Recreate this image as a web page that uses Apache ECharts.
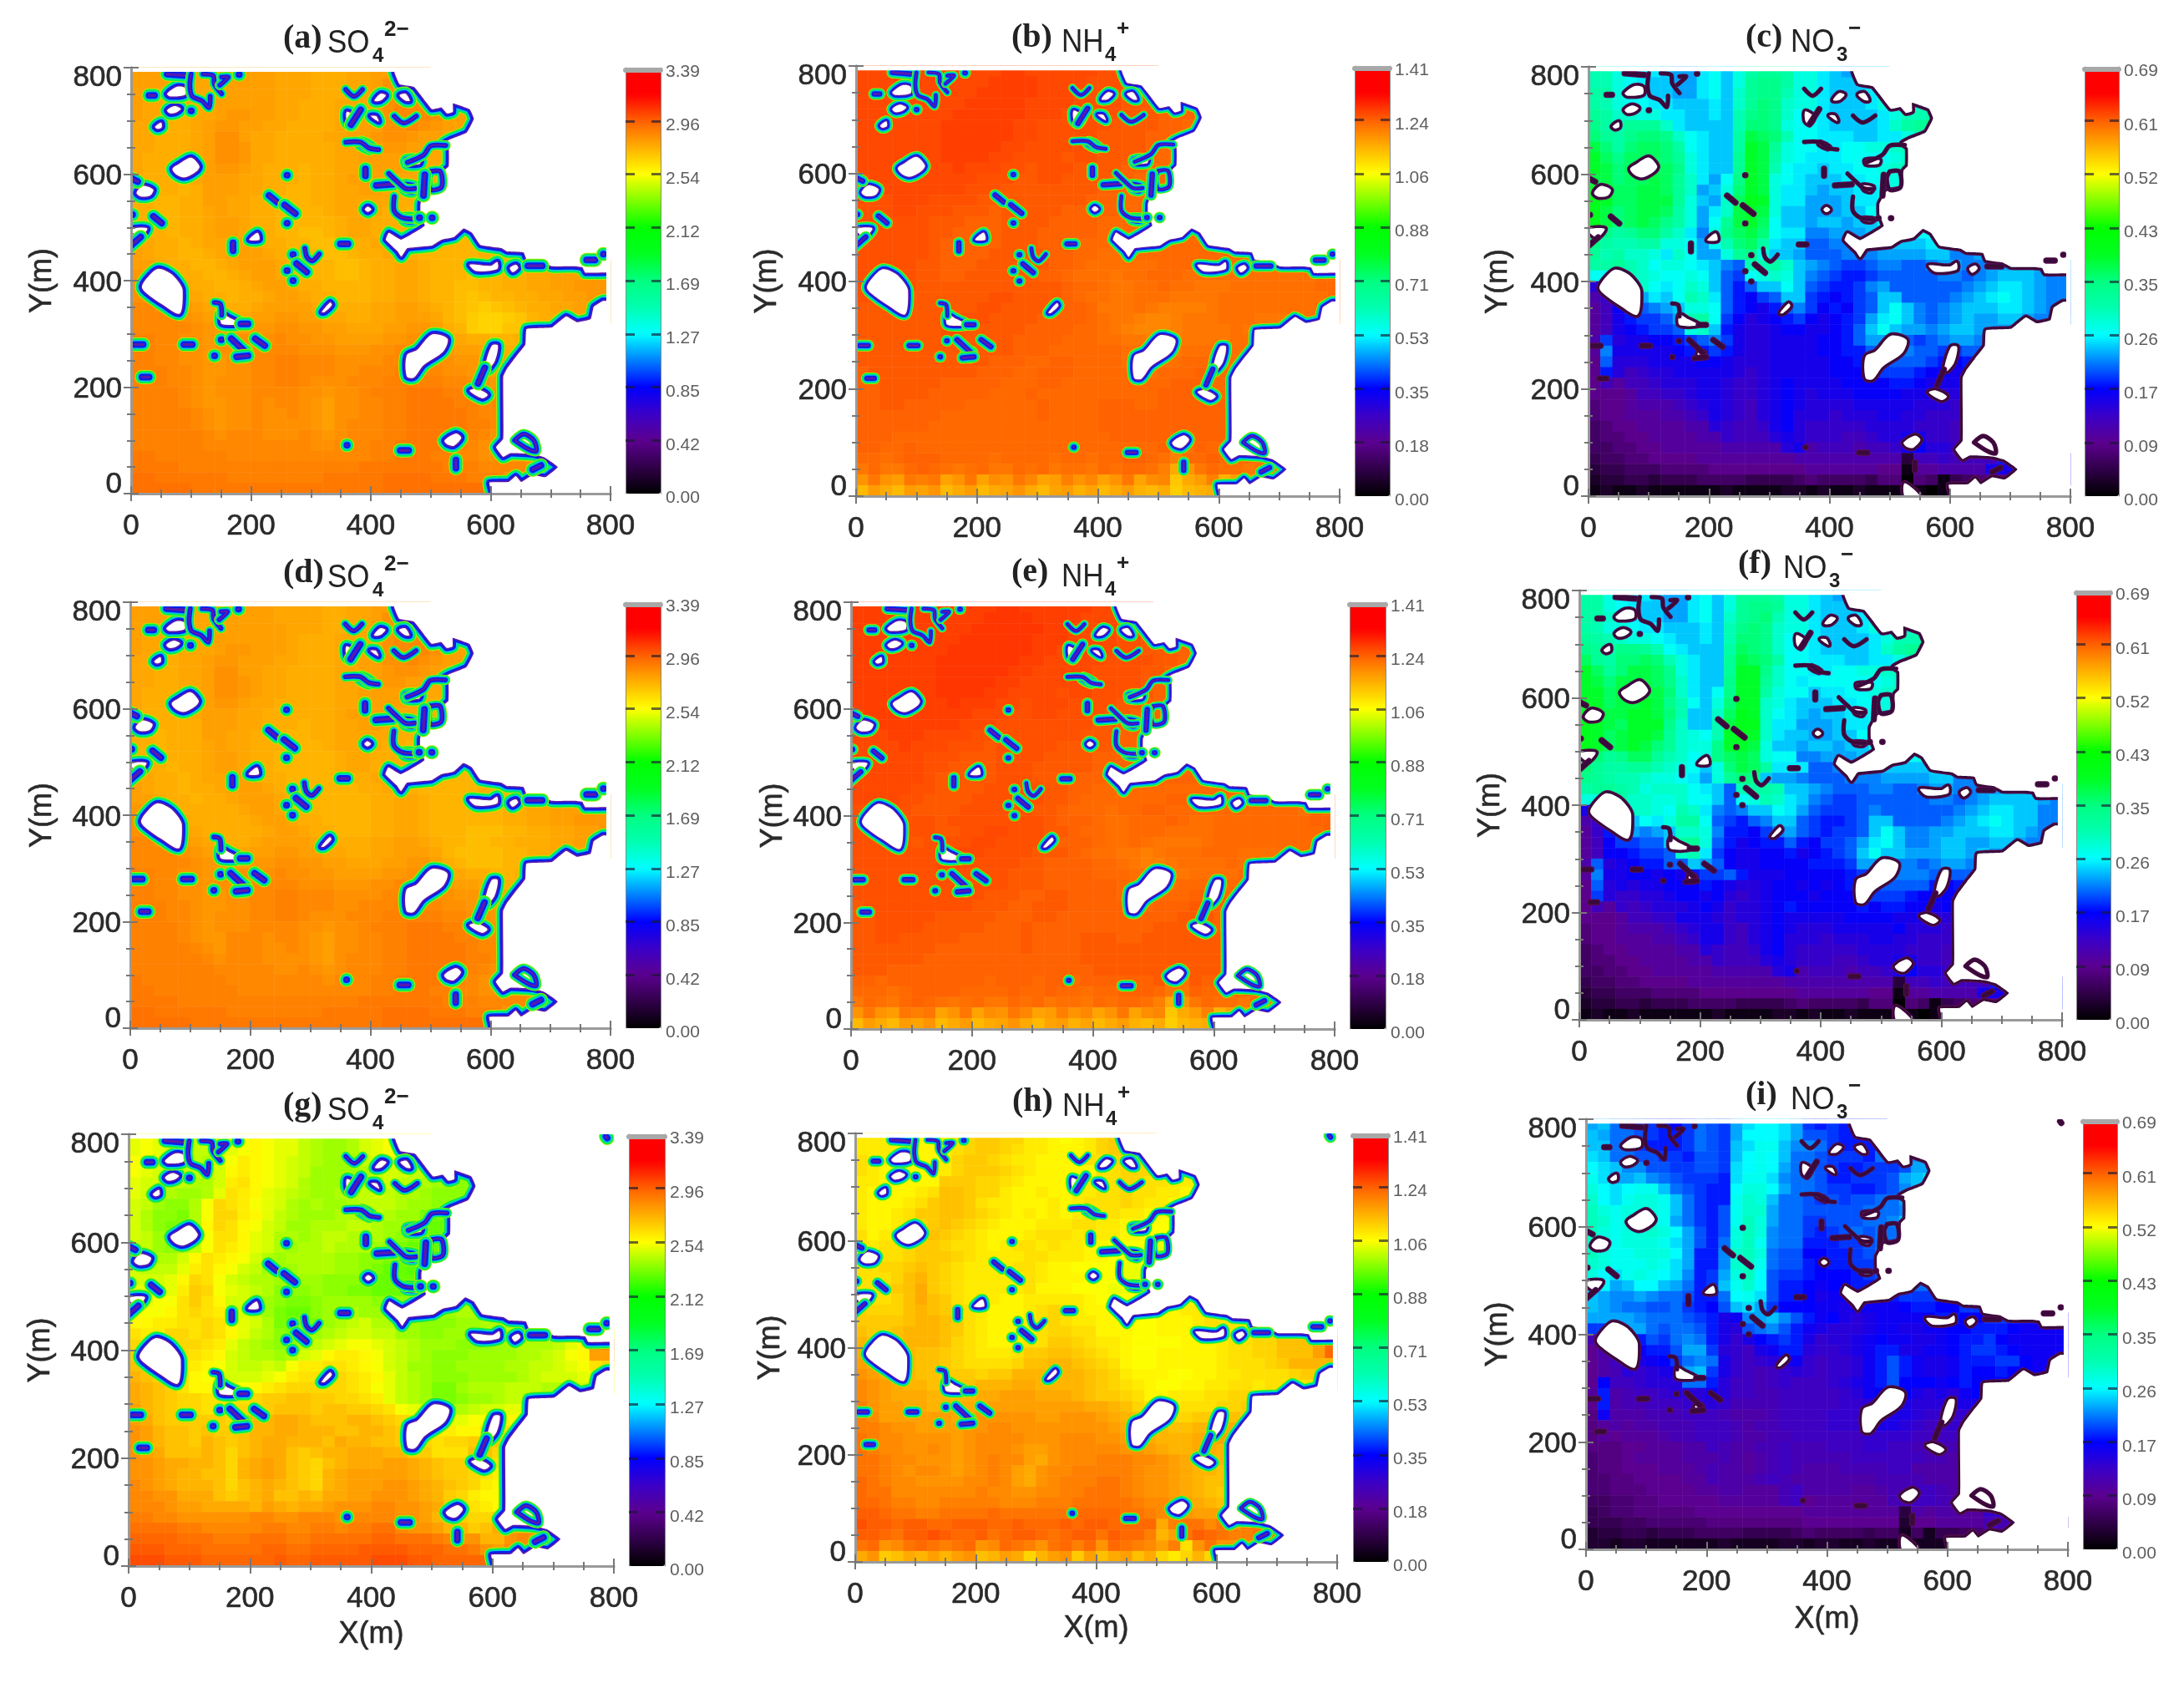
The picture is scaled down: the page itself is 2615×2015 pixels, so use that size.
<!DOCTYPE html>
<html><head><meta charset="utf-8"><style>html,body{margin:0;background:#fff}#c{width:2615px;height:2015px}</style>
<script src="https://cdn.jsdelivr.net/npm/echarts@6/dist/echarts.min.js"></script></head><body><div id="c"></div>
<script>
const rowsA=["kkkjjjjjjkkkjjjiiijjkkmm","kkkjjjjjkkkkjjjiiijjkmmmn","kkjjjjjjkkkkjjjiiijjkmmnnl","kjjjjjjkkkkkjjiiijjjkmnnnnkkkk","kjjiijjkllkkjjiiijjkkmnnnmkkjj","jjjiijkllkkjjiiiijjkkmmnmlkkjj","jjiiijkmmkjjiiiijjkklmmlkkjjj","jjiiijkmmljjiiiiijjkkllkkjjk","jiiiijkmmljjiiiiijjkkkkjjjjj","jiiiijkllkjiiihiijjkkkkjjiii","jiiihjkkkjjiiihiijkkkkjjiiii","iiiihikkkjjiihhiijjkkjjiiih","iihhiikkjjiihhhiijjjjjiihh","iihhiijkjjiihhhhijjjjiihhh","iihhiijkkjiihhhhhijjiiihhhh","jiihiijkkjiihhgghijjiiihhhhiii","jjiihijjkkjiihhgghiijjiihhhhhiii","kjiihhijkkkjiihhgghiijjihhhhhiiijj","kkjiihhijkkkjiihhgghiijjihhhhhiiijjkkkkl","llkjiihhijkkjiihhgghiijjihhhghhiijjkkkll","mmlkjiihhijkkjiihhhhiijjihhgghhiijjkklll","mmmlkjiihiijkkjiihhhiijjihhgfghhiijjkkll","nnmmlkjiiijkkkkjjiiijjkkjihgfefghiijjkkk","nnnnmlkkjjkkllkkjjiijjkkkjhgeddefhiijjjj","nnnnnmllkkllmmllkkjjjkkllkiheddffhiii","oonnmmlmmmmmnmmllkkkkllmmlkjiihhii","oonnmmlmmnnnnnmmmlllmmnnmllkkjjiii","oonnmmllmmnnoonnnmmmmnnnnmmllkkjj","ooonnmllmmnnoonnnmmnnnoonnmmllkk","ooonnmlmmmnnoonmmmnnnooooonnmmll","oooonmlmmmnnnnmmlmmnooopppoonnmm","oooonmllmmnmnnmlkmmnnooppppoonnm","ooooonmlmmnmmnmlkmmnnooppppponnm","ooooonmlmmnmmmmlkmnnnoopppppoonn","oooooonmnnnmmmnmlmnnnooppppoonmm","oooooonnnnnnnnnmmnnnooppppoonmmk","ppoooooonnnnnnnnnnnnoopppoonnmmkkkll","ppppooooooooooooooopppppppooonnnnmmkl","qqppppppoooooooopppppqqqqpppooommkkl","qqqqqppppppppppppppppqqqqqqqqqq"];
const rowsB=["wwwwwwwwwwwwxxwwwwwwvvvvv","wwwwwwwwwwwxxxxwwwwvvvvuu","wwwwwwwwwwxxxxxwwwvvvvuuuu","wwwwwwwwwxxxxxwwwwvvvvuuuttttt","wwwwwwwwxxxxxxwwwvvvvvuuutttss","wwwwwwwxxxxxxwwvvvvvvuuuuttsss","wwwwwwwxxxxxxwwvvvvvuuuuttsss","wwwwwwwxxxxxwwvvvvvvuuuutssss","wwwwwwwxxxxwwvvvvuvvuuuttsss","wwwwwwwwxwwwvvuvvvuuuuttsss","vwwwwwwwwwvvvuuvvuuuuttssss","vvwwwwwwwvvvuuuuuuuuttsssss","vvvwwwvvvvuuuuuuuuutttsss","vvvwwvvvuuutuuuuutttttsss","vvvvvvuuutttuuuuttttssss","vvvvvvuuttttuuutttttsssssss","vvvvvvutttttuuutttssssssssss","vvvvvvuttttuuuuuttssrrrsssssssss","vvvvvuutttuuuuuuttsrrrrrrsssssrrrrrrrsss","vvvvvuuttuuuuuuttsrrrqrrsssrrrrrrrrrrrss","vvvvvuuuuuuuuuuuutssrqqrrsrrqqqrrrrrrrss","vvvvuuuuuuuvvuuuutsrrqqrrrqqqqrrrrrrrrrs","uuuuuuuuuuvvuuuutttsqqqrqppppqrrrrrrrrss","uuuuuuuuvvvuuuuttttsrqqpoopqqqrrrqqqqr","uuuuuuuvvuuuuuttttssrqpooopqqqqrqqq","uuuuuuuvvuuuuttttsssrrqqpppqqqqrrr","uuuuuuuuuuuuutttssssssrrqqqrrrrrr","uuuuuuuuuuutttssttssssrrrrrsssrrr","tuuuuuuuuutttsstttsssssrrssstss","ttuuuuutttttsssttssssssssstttss","ttuuuutttttssstssssssssssttttss","ttuutttttsssssstsssstttsstttttts","tttttttsssssssstssssttttttttttts","ttttttssssssssssssssttttttttttts","tttsssssssssssssssssstttttssttttt","ttsstsssssssssssssssssssstqrtsss","ssrstttssssrssssrssrssttsrpsstssssrs","qsqqstsrqrsqqsrsqrrqsrssrpjmqsrrqssss","mqmlqpqkmqknmqoklpmokmqknofjlpilnqrrr","hljhlkmhjlhjkmjhklikhjlihjehijhjklmm"];
const rowsC=["ppnlllkjjlmknqrrqnnlkjkkk","ppnmlkkjjlmknrssqnnlkkkkk","qqnmlkkjjlmkorsspnnlkkkll","qpnmmllkkklkortsonnlkkklnnooppp","rqoonnllkklkpstsommlkkkklnppqqq","sqprrrolkkkkpttsnmmlkkkkloqrsss","trqsttsomlkkqvutpmmlllkkllnppqrr","vtqtuutqmlkkqwvrnmmllmmnnopppp","wusuuutrnlkkrwvqnmlllmmmmnoppp","wvtuuuusnlkkrwvpmllkllmmnopppp","vvtuuvuroljmswvnmlkkkllmmnooooo","wvuuvvurojkntwvnllkjkkllmnooo","xwuuvvvrnkjouxwnlljjjkllnpqqq","xvtuvvuqnjlovwvnkkjjjkkmoqpppp","xvtuvusqnjmrvwumkkjkkjkkmnoppp","wsqrttqolinsuvtmlliijjjkllmmmmmm","sqppqqnnmjmptuqlkkhhiijjkkkkllll","rpqoonlomjjnrsnkkjhhhiiijjjjkkiijj","qqrpomnnmlkihppqokjihgghiihhijjiijjklkjj","mmqponmmnmkhgmnonkihgffghhhhhiihijkkkjii","cfjkomlmonkhfhkkmkhgffgijhhhhhhijkllkjii","9bgijlkmpolhfeghkkgfefghkkhhhhijklmlkjii","8aefhijknnmhfedfhigefeghkmkihijkkkllkjih","8adfgghjpqmgecdefgedefgjlmkihijkjjkkjiii","8adefgghnokfdccdeeddefhkmkjjijkkjjjj","9gcddeefghigdccddddeefhjjihghijjiiii","8idddddeffgfdccddddeeffhhiihhgghhhhh","7hcccddddeedcccdddddeefgghhhgfefffff","7fcabccdddddcbcdddddeeefgggfeedeeee","7a8aabcccddcbbcdeddddeeeeffedddddd","7778aabbcddcbbcdedcdddeeeedddccccc","6778999abcdcbacdedccccdddddcccbbbb","67788899abdcbacdecccbcccddccbbbbbb","5677888899cbaabdecbbbbbccccbbbaaaa","56677888899baaacdcbbbaabccddbbaaaa","5566778888899999cd9aaa9aabdeccbbaaaa","455667777888888889999999993aabaaaafgfeeee","344555666677777777888888771889999ddeegfeddd","233443444555544445655554660651456778ddeedd","12112111111211112212112111110112444"];
const rowsD=["kkkjjjjjjkkkjjjjiijjkkmm","kkkjjjjjkkkkjjjjiijjkmmmn","kkjjjjjjkkkkkjjjiijjkmmnnl","kjjjjjjkkkkkkjiiijjjkmnnnnkkkk","kjjijjjkllkkkjiiijjkkmnnnmkkjj","jjjijjkllkkkjjiiijjkkmmnmlkkjj","jjiijjkmmkkjjiiiijjkklmmlkkjjj","jjiijjkmmlkjjiiiijjkkllkkjjk","jiiijjkmmlkjjiiiijjkkkkjjjjj","jiiijjkllkjjiiiiijjkkkkjjiii","jiiiijkkkjjiiiiiijkkkkjjiiii","iiiiiikkkjjiiihiijjkkjjiiih","iihiiikkjjiiihhiijjjjjiihh","iihiiijkjjiiihhhijjjjiihhhh","iihiiijkkjiihhhhhijjiiihhhh","jiihiijkkjiihhhhhijjiiihhhhiii","jjiihijjkkjiihhhhhiijjiihhhhhiii","kjiihiijkkkjiihhhhhiijjihhhhhiiijj","kkjiihiijkkkjiihhhhhiijjihhhhhiiijjkkkkl","llkjiiiiijkkjiihhhhhiijjihhhhhhiijjkkkll","mmlkjiiiiijkkjiihhhhiijjihhhhhhiijjkklll","mmmlkjiiiiijkkjiihhhiijjihhhggghhiijjkkl","nnmmlkjiiijkkkkjjiiijjkkjihhgghhiiijjkkk","nnnnmlkkjjkkllkkjjiijjkkkjhgggghhiijjjjj","nnnnnmllkkllmmllkkjjjkkllkihggghhiiii","oonnmmlmmmmmnmmllkkkkllmmlkjiihhii","oonnmmlmmnnnnnmmmlllmmnnmllkkjjiii","oonnmmllmmnnoonnnmmmmnnnnmmllkkjj","ooonnmllmmnnoonnnmmnnnoonnmmllkk","ooonnmlmmmnnoonmmmnnnooooonnmmll","oooonmlmmmnnnnmmlmmnooopppoonnmm","oooonmllnnnmnnmlkmmnnooppppoonnm","ooooonmlnnnmmnmlkmmnnooppppponnm","oooooonmnnnmmmmlkmnnnoopppppoonn","ooooooonnnnnmmnmlmnnnooppppoonmm","pooooooonnnnnnnnmnnnooppppoonmmk","ppooooooonnnnnnnnnnnoopppoonnmmkkkll","ppppooooooooooooooopppppppooonnnnmmkl","qqppppppoooooooopppppqqqqpppooommkkl","qqqqqppppppppppppppppqqqqqqqqqq"];
const rowsE=["xxxxxxxxxxxxyyxxxxxxwwwww","xxxxxxxxxxxyyyyxxxxwwwwvv","xxxxxxxxxxyyyyyyxxwwwwvvvv","xxxxxxxxxyyyyyyxxxwwwwvvuuuuuu","xxxxxxxxyyyyyyyxxwwwwwvvuuutts","xxxxxxxyyyyyyyxxwwwwwvvvvuuttt","xxxxxxxyyyyyyxxwwwwwvvvvuutts","xxxxxxxyyyyyxxwwwwwwvvvvuttss","xxxxxxxyyyyxxwwwwvwwvvvuutss","xxxxxxxxyxxxwwvwwwvvvvuutts","wxxxxxxxxxwwwvvwwvvvvuutttt","wwxxxxxxxwwwvvvvvvvvuuttttt","wwwxxxwwwwvvvvvvvvvuuuttt","wwwwxwwwvvvuvvvvvuuuuuttt","wwwwwwvvvuuuvvvvuuuutttt","wwwwwwvvuuuuvvvuuuuuttttttt","wwwwwwvuuuuuvvvuuuttttttttt","wwwwwvvuuuuvvvvvuuttssssssssssss","wwwwvvuuuuvvvvvvuutssssssstttssssssssrts","vvvvvuuuuvvvvvvuutsssrssttsssssssssssrts","vvvvvvvuvvvvvvvvutttsrrssstsrrsssssssstt","vvvvvvvuuvvwwvvvuutssrrsssrrrrssssssssst","vvvvvuvvvvwwvvvvutttsrrsrqqqqrssssssssss","vvvvvvvvwwwvvvvuuutsrrqqpqrrrsssrrrrs","vvvvvvvwwvvvvvuuttttssrqppqrrrrsrrr","vvvvvvvwwvvvvuuuttttsssrrqqqrrrrsss","vvvvvvvvvvvvvuuuttttttssrrrsssssss","vvvvvvvvvvvuuuttuuttttsssssstttss","uvvvvvvvvvuuuttuuutttttsstttuttt","uuvvvvvuuuuutttuuttttttttttuuutt","uuvvvvuuuuutttuttttttttttuuuutt","uuvvuuuuutttttuttttuuuttuuuuuuut","uuuuuuutttttttuttttuuuuuuuuuuuut","uuuuuutttttttttttttuuuuuuuuuuuut","uuutttttttttttttttttuuuuuuuuuuuuu","ttsttttttttstttsttsttttttuqruttt","sssrsttttsssstsstssrsstttsqqtssssssrt","qsrqstsrqrsqqsrsqrrqsrssrpjmqsrrqssss","mqmlqpqkmqknmqoklpmokmqknofjlpilnqrrr","hljhlkmhjlhjkmjhklikhjlihjehijhjklmm"];
const rowsF=["qqnlllkjjlmknrrrqnnlkjkkk","qqnmlkkjjlmknrssrnnlkkkkk","qqonlkkjjlmkorstpnnlkkkll","qpnnmllkkklkpstsonnlkkklnnooppp","rqponnmlkklkpttsommlkkkklnppqqq","srqssrpmlkkkqutsommlkkkkloqrsss","urqttutpnlkkrvutqmmlllkkllnpqrrr","wurtvvusnlkkrwwsommllmmnnopppq","wvtvvvusolkkswwromlmmmmmmnoppp","wwuvvvvtolkmswwqnmmkllmmnoppqq","wwuvvwvspmkntwwonlkkkllmmnooooo","wxvvwwvtpkkouxwomlkjkkllmnopp","xwvuwwwsokkpvxxolljjjkllnpqqq","xwuvwwvronmpwxwolkkjjkkmoqqqq","xwuvwvtronnswwvnkkjkkjkkmnoppp","wtrsuurpomnsuvunmmiijjjkllmmnnnn","trqqrrponmkntvuqlllhhiijjkkkklllm","srqpponnmljnrtskjjihhhiiijjjjkkiijj","qrrqpnooomlkhpqqpkkjihhhiihhijjiijjklkjj","nnrqoonnommkhmnpolkihgghhhhhhiihijkkkkji","dgkloonmpolihikkmljhggghihhhhhhijkllkkii","9bhjkmlnqqmhgfhikkhgffghkkhhhhijklmlkkii","8bfgjijkooniffegijhgfgghkmkiijjkkkllkjih","8aegghhkqrnhfdeffhfegghjlmkiijkkjjkkjiii","8aeefgghoplgeddeefdefghkmkkjjjkkjkjj","9hcdeffhhkjheddeeeefffgjjiiihijjiiij","8iddeededfgghfdddeeeeefgghiiihhhhhhhi","7hcdcddeeefedccdeededefgghhhhfefgfff","7gcbbccdeedecbcdeeedeeefgggfeeeeeee","7a8babcccdedbccdefeeeeefeffeededdd","7778aabbdddcbccdedddddeeeedddccccc","6778999abcddbacdedcccdddddecccbbbb","67788899abddbacdecccbcccddccbbbbbb","5677888899cbaabdecbbbbbccccbbbaaaa","56677888899baaacdcbbbaabccddbbaaaa","5566778888899999cd9aaa9aabdeccbbaaaa","455667777888888889999999993aabaaaafgfeeee","344555666677777777888888771889999ddeegfeddd","233443444555544445655554660651456778ddeedd","12112111111211112212112111110112444"];
const rowsG=["fgffeddefghgffdcbbcefghhh","fgfeeddefghgffdcbbcefghhh","gffeedcegihgfedcbbbdefghhh","gfeeddcehihgfedbbbbcdeedddbbaa","feeddcceijhgfecbbbbcdeddcbbaaa","fedcbbcfjihfedcbbccdedccbaaabb","edbaacgkjigfecbcbbcdddcbbaa9","ecaa9cgkkihfdcbbbccddcbb9888","eca99chkjhgedbbcccddcbb98877","edba9cgjjhfeccbcddcdcba98877","edbabdgjihfecbccdcccba98877","edccehjihgecbccccbbaa98877","edddfijhgedbbbcccbba98877","eeefhkjgedccbbbbaaa988888","ffefilkgfedcaaabaa9988889","ffggjljheecba99abbbbaaaabbbbbb","ggghjkjigedb988abccbbaaaabbcccbb","hhiijjkjhfec9899bcdeccbbaaabbcccdd","jiikkjkjhfdca99bcdeeddbbaabbbbccdddeefgg","kjkkkkjifdcbaacdefggfedcbbbaaabbcccdfhtt","lkklkjihedccbcefhiihgedcbaaabbbbccdeghpp","mmlljihgeddedgiijjihgedbbaabbbbccddefgjk","nmlkjhgfeeefgijjjkjihfdcbaaabbbbcdeeefgh","onmljhhggghijkkkkkjigfdcb99bcccdddccdee","onmlkkjjjjkllmmllkkjifdcb99abbcddd","pnmlkkjkkkllmmmlmmllkjgfedccdeeffe","pomlllllklnnoonmmmnnmlkjhgffgghhg","qpnmmlmllmnnoonnnmmnnmlkjiihhijj","qpnmmlnmlmnoonnnmonnmmlkkjkkllmm","qpommmnmkmnoomlmnnooonnlljjjmmkk","qqpoonnmknopomlkmnooopponmllkkjj","qqponnmmknopomlknoppppponmllkjij","rqponnnmkmnonmlknopppqqponmlkihh","rrqqooomlmnommnmooppqqqponlkihhh","rrrqppoooonponoopqqqrrqqpolkjihh","ssrrqqqqqqrrqqrrrqrrrrqqpnmlkkll","ttttssrrrrrssrrssrssttrqqpnnlmoppq","uuuutttssstttsstttttuutttsrqqnnqrqpo","vvvuuutttttuuttuuuuvvvvuuuttsqprrst","wwwvvvuuuuuuvuuvvvvvwwwvvuuuuut"];
const rowsH=["ffffeeefghiihhffedefhijjk","ffffeeefghiihgffeeefhijjk","gffeeeefhiihgffeeeegghjjkk","gfeeeeefhiiihgfeeeeegghhhhggff","ffeeeeeiiihhgfeeeeefgghhggffee","feeeefgjjihhfeefeeffgghggffeff","feeefgijjigffeeefefggghgffeee","feefgiijjihgfefefefgggffeeed","feefghijihgfeeefffggffeeddcc","gefgghjihgfeeefgggfgffeeddcc","gfgghiihggfefggfgffeeddddcc","gggghiiihgffffggfffeeddccc","gghhijihgffffggfeeddddccc","ggghjkihgfffffgfeeedddccc","gghijlihgfffffgeeedddccc","hgghjljigfgfeefffffeddddeeee","ihhhjkjihgfeeefghgfeeeddeeefff","iiiijkkjigfeeefghgffeeeddeeefgg","jiijkkkjigfeeefghhggeeeddeeeeffgghhjjkkl","kjjjkkkjhgfeefggiihgffeddddeeefgghhjjjmr","lkkkkjjihgfffgiijjihgfeddeeeeefgghhjjjmr","mllkkjjihgggghjjkkjihgeddeeeeefggghikkkk","nmlkkjjiiihiikkkkkkjihfeeeddeeffgggghiij","onmlkkjjjjkkkllkkkkjihgfeddeeffggfgggg","onmlllkkkkllmmmlllkjiihgeefffgghhh","pnmmllkllllmmmmmmmmllkjhggfggghhi","pommmmmmlmnnnnnmmnnnmlkjiihhiijji","pponnmmmmnnoonnnnnnnnmllkkjjkkll","qpoonnnnmnoooonnnooonnmllkkkllmm","qpoonnonmnooonmmnooooonnmlkkllkk","qqpoonnnmnopoomlnooopppoonmlkkkj","qqponoonmnopomlnooppppponnmlkkjj","rqpoonnnnoopomlnopppqqponnmlkjjj","rqqooooooopoonnooppqqqponnmlkjii","rrqppoopppppooopppqqqqqpoonmlkjj","ssrqqppqqqqrqqqqqqrrrrqqpoonmmmm","tssrssrrsssrrsrrrsrssrrrrlpqqoqnpqrr","ssrqsstsrrsqrssrqrssqsrrpkmqsrqppqrrr","qrnoqrqpqrnorqpnqrprnrqpompgnqnnoqrr","lnijlkmkmnjkmlhkmnimjlmjlhfhkhkmln"];
const rowsI=["mnkkjihgikjimoppomihihhii","nmkkjihhikjimpppomjjihhhi","nnkkihhhikjinoqqnllkihhhij","onkkjjiihjjinpqpnkkjiiihkkmlmmm","ponlljjiijjiopqpmkkjihhiiijmmnnn","qommnlkjiiihoqqolkkjhhiiijmnopp","rpopqqnkjihhprrpmkkjiihhijlnnoo","spoqrrqnkihhqsrnkkjijijjkkmmnnn","trqrrrqnkihjqssmkkjjjjjkkklmmm","tsqrrrqmkihjqtrmkkiijjjkklnnnn","trqrrsrpmjhjrtrlkkihijkjkklmmm","tsqrrrqomjhkrtqlkkhhhiijkklmm","trqqrrrpmhhlstrkjjgghhijknnnn","srqqqrqomhhlstqkjjhghhiikmnnn","rpoqrqpolhimrtpjiihggghijkmmm","rpmnppnmkhinqspjhhgfgghhjjkkkkk","nmllmlkkjhhkpqojhhgeffgghhiiiijj","nmlkkjjkihgjnomigggffeffffghhggiihh","mmmmlkkkjiheflmnljhfgedeffffghhggiiihhff","iinmmkjkkjhedjkljhfedddeffeeffgghhhgffff","acgghjiklkheceghihecddefgffeefghhigfffff","7adffhhjmmidcbefhhdccdefhheeffghiihgffff","79bdefgiklkecbcdefcbccdfhjhfeefhhhiigfff","79adcdefmniecbabcdcbccdfhjhfeefhgghggfff","7gbbcdddkkhdbbabcbbbcdefhjgggfghgggg","8h9abbcdddfdbbaabbbbbcdfgggededfgggg","7h9aabbbcddcaaaabbbbbccdeeedddeeeeee","6f999aaabbba999abbbbcccdeeedcccccccc","689899aaabbba9aabbbbcccdeedcbbcbbbb","6878889aabbba99aabbbbbbccccbbbbbbb","6667788899ba99aabaaabbbccbbaaaaaaa","56678888999a989abaaaaabbbbbbaa9999","5667778889a9989aba999aaaabb9999999","5566777788a999aba9999999aaaa999888","5566677778899888ab9999889aabba9988","4455667777788888ab7888888aabbaa988","345566666777777777888888882989988cdcbbb","333445555566666666777777771778888aabbcbaaa","122332333444433334544443440403345aabbaa","11011000000100001101100100000011222"];
const coastCols=[25,26,27,31,31,31,30,29,29,29,29,28,27,27,28,31,33,35,40,40,40,40,40,40,37,35,35,34,33,33,33,33,33,33,33,33,37,38,37,32];
const seaCoast=[[439,900],[439,793],[448,769],[472,764],[483,749],[502,722],[518,725],[527,714],[537,717],[537,733],[546,730],[565,722],[572,704],[560,678],[532,665],[520,657],[530,649],[530,615],[523,607],[520,573],[495,568],[483,545],[483,524],[490,503],[451,477],[430,490],[425,477],[444,456],[451,445],[461,461],[502,466],[518,477],[539,482],[555,498],[569,490],[583,467],[618,461],[627,455],[655,453],[660,440],[688,435],[702,427],[739,427],[753,425],[758,415],[815,414],[815,362],[788,362],[772,351],[767,328],[744,322],[726,333],[702,312],[660,309],[658,280],[642,257],[628,236],[621,220],[621,103],[609,87],[621,69],[633,76],[670,74],[690,68],[712,50],[691,31],[670,35],[651,22],[642,33],[630,22],[598,21],[602,0],[602,-30],[900,-30],[900,900]];
const holes=[[[69,610],[81,620],[100,631],[114,615],[109,605],[90,594],[76,599]],[[9,565],[20,578],[37,571],[32,560],[16,558]],[[3,498],[27,498],[15,482],[3,490]],[[40,689],[50,697],[51,688],[44,685]],[[60,720],[72,728],[83,723],[76,716],[65,714]],[[60,751],[76,764],[90,762],[90,749],[65,746]],[[197,477],[211,490],[214,477]],[[406,738],[416,751],[425,748],[416,738]],[[448,748],[458,751],[465,738],[458,738]],[[360,717],[360,699],[367,693],[374,707]],[[400,709],[409,709],[413,699]],[[385,659],[400,650],[397,648],[383,656]],[[460,626],[483,626],[481,619],[461,619]],[[455,579],[472,576],[469,568],[458,571]],[[390,534],[395,539],[401,534],[395,529]],[[455,517],[474,516],[470,512],[458,513]],[[565,430],[600,428],[611,435],[611,422],[576,418]],[[632,424],[642,430],[646,424],[637,416]],[[18,388],[25,403],[44,422],[65,414],[79,398],[86,382],[81,338],[51,356],[25,377]],[[151,338],[165,330],[183,319],[151,319]],[[182,268],[192,268],[190,258],[182,260]],[[318,341],[332,359],[335,354],[323,341]],[[460,260],[477,270],[502,299],[528,291],[521,267],[488,241],[472,218],[460,220]],[[602,278],[612,278],[607,249],[595,233],[591,241]],[[565,193],[577,197],[595,186],[586,179]],[[523,100],[542,113],[551,105],[539,90],[528,92]]];
const traces=[[[-5,595],[11,586]],[[16,482],[-3,463]],[[30,748],[39,748]],[[100,719],[100.5,719]],[[60,788],[93,785]],[[100,788],[98,764],[102,746],[118,738],[130,725],[132,746]],[[120,788],[137,785],[139,769],[151,751]],[[151,782],[162,782],[148,767]],[[180,787],[180.5,787]],[[260,598],[260.5,598]],[[230,560],[244,547]],[[256,542],[274,526]],[[260,508],[260.5,508]],[[37,521],[51,508]],[[2,524],[2.5,524]],[[170,471],[170,456]],[[349,469],[362,469]],[[270,449],[270.5,449]],[[290,461],[293,445],[302,437],[314,450]],[[276,432],[293,416]],[[260,419],[260.5,419]],[[270,400],[270.5,400]],[[358,759],[372,746],[386,759]],[[367,693],[383,721]],[[439,709],[455,696],[476,709]],[[358,660],[383,660],[397,649],[413,646]],[[391,610],[391,597]],[[409,579],[437,581]],[[430,601],[444,586],[458,573],[474,573]],[[439,558],[439,531],[453,518],[479,516]],[[481,518],[481.5,518]],[[502,518],[502.5,518]],[[461,622],[488,636],[500,653],[525,654]],[[500,605],[516,605],[518,576],[500,571],[495,592],[500,605]],[[488,560],[490,599]],[[662,428],[686,428]],[[760,439],[774,439]],[[788,450],[788.5,450]],[[139,359],[149,356],[151,335]],[[183,319],[195,319]],[[88,280],[102,280]],[[6,280],[20,280]],[[18,219],[30,219]],[[150,289],[150.5,289]],[[139,259],[139.5,259]],[[167,291],[190,267]],[[176,257],[195,259]],[[207,291],[223,278]],[[360,91],[360.5,91]],[[449,81],[463,81]],[[542,63],[542,48]],[[640,100],[655,112],[672,100],[676,80],[662,84],[640,100]],[[670,45],[684,53]],[[590,236],[579,207]]];
const borderStrips=[[[-20,792],[820,792],[820,820],[-20,820]],[[793,-20],[820,-20],[820,820],[793,820]]];
const wedgeNO3=[[525,24],[550,0],[525,0]];
const cornerSpot=[[787,796],[789,793]];
const ticksSO4=["0.00","0.42","0.85","1.27","1.69","2.12","2.54","2.96","3.39"];
const ticksNH4=["0.00","0.18","0.35","0.53","0.71","0.88","1.06","1.24","1.41"];
const ticksNO3=["0.00","0.09","0.17","0.26","0.35","0.43","0.52","0.61","0.69"];
const rampColors=["#000000","#300048","#5c0090","#3a00c8","#0000ff","#0080ff","#00ffff","#00ffb0","#00ff80","#00ff20","#00ff00","#80ff00","#ffff00","#ffb000","#ff6000","#ff0000","#ff0000"];
const cellsX=Array.from({length:40},(_,i)=>String(i)),cellsY=cellsX;
const ringBlue=[['#a8f000',17],['#00ee50',15],['#00c8e0',11],['#0020f0',8],['#5818b0',3.5]];
const ringThin=[['#a8f000',14],['#00ee50',12.5],['#00c8e0',9.5],['#0020f0',6.5],['#5818b0',3]];
const ringDark=[['#5a1050',7.5],['#3a0a3a',5.5]];
const P=[
{id:'(a)',ion:'SO',sub:'4',sup:'2−',ticks:ticksSO4,max:3.39,lo:2.4,st:.02,rows:rowsA,ring:ringBlue,L:157,R:731,T:81,B:591,cL:749,cR:791,tx:339,ty:47,yc:50},
{id:'(b)',ion:'NH',sub:'4',sup:'+',ticks:ticksNH4,max:1.41,lo:1.0,st:.008,rows:rowsB,ring:ringThin,L:1025,R:1604,T:79,B:594,cL:1622,cR:1664,tx:1211,ty:46,yc:918},
{id:'(c)',ion:'NO',sub:'3',sup:'−',ticks:ticksNO3,max:.69,lo:0,st:.012,rows:rowsC,ring:ringDark,L:1902,R:2479,T:80,B:594,cL:2496,cR:2537,tx:2090,ty:46,yc:1793},
{id:'(d)',ion:'SO',sub:'4',sup:'2−',ticks:ticksSO4,max:3.39,lo:2.4,st:.02,rows:rowsD,ring:ringBlue,L:156,R:731,T:721,B:1231,cL:749,cR:791,tx:339,ty:687,yc:50},
{id:'(e)',ion:'NH',sub:'4',sup:'+',ticks:ticksNH4,max:1.41,lo:1.0,st:.008,rows:rowsE,ring:ringThin,L:1019,R:1598,T:721,B:1232,cL:1616,cR:1659,tx:1211,ty:686,yc:925},
{id:'(f)',ion:'NO',sub:'3',sup:'−',ticks:ticksNO3,max:.69,lo:0,st:.012,rows:rowsF,ring:ringDark,L:1891,R:2469,T:707,B:1221,cL:2486,cR:2527,tx:2081,ty:676,yc:1784},
{id:'(g)',ion:'SO',sub:'4',sup:'2−',ticks:ticksSO4,max:3.39,lo:2.05,st:.03,rows:rowsG,ring:ringBlue,L:154,R:735,T:1358,B:1875,cL:753,cR:796,tx:339,ty:1325,yc:48,corner:1},
{id:'(h)',ion:'NH',sub:'4',sup:'+',ticks:ticksNH4,max:1.41,lo:.9,st:.012,rows:rowsH,ring:ringThin,L:1024,R:1601,T:1357,B:1870,cL:1620,cR:1662,tx:1212,ty:1320,yc:922,corner:1},
{id:'(i)',ion:'NO',sub:'3',sup:'−',ticks:ticksNO3,max:.69,lo:.02,st:.0095,rows:rowsI,ring:ringDark,L:1899,R:2476,T:1340,B:1855,cL:2494,cR:2535,tx:2090,ty:1312,yc:1793,corner:1}];
const xNameGap={6:64,7:62,8:66};
const grid=[],xAxis=[],yAxis=[],series=[],visualMap=[],graphic=[];
const gc='#9a9a9a',lab='#2a2a2a',FF='Liberation Sans';
const heavy={textBorderColor:lab,textBorderWidth:.6};
const shapeSets=P.map(p=>[{k:'sea',pts:seaCoast},...holes.map(h=>({k:'hole',pts:h})),...(p.ion==='NO'?[{k:'hole',pts:wedgeNO3}]:[]),...traces.map(t=>({k:'trace',pts:t})),...borderStrips.map(s=>({k:'strip',pts:s})),...(p.corner?[{k:'trace',pts:cornerSpot}]:[])]);
P.forEach((p,i)=>{
  const box={left:p.L,top:p.T,width:p.R-p.L,height:p.B-p.T};
  const gH=grid.length; grid.push(box);
  const xH=xAxis.length; xAxis.push({type:'category',gridIndex:gH,data:cellsX,show:false});
  const yH=yAxis.length; yAxis.push({type:'category',gridIndex:gH,data:cellsY,show:false});
  const data=[];
  p.rows.forEach((row,r)=>{[...row.padEnd(coastCols[r],row[row.length-1]).slice(0,40)].forEach((ch,c)=>{data.push([c,39-r,+(p.lo+p.st*parseInt(ch,36)).toFixed(3)]);});});
  series.push({type:'heatmap',xAxisIndex:xH,yAxisIndex:yH,data,z:2,silent:true,progressive:0,animation:false});
  visualMap.push({type:'continuous',seriesIndex:i,min:0,max:p.max,left:p.cL,top:p.T,itemWidth:p.cR-p.cL,itemHeight:p.B-p.T,padding:0,text:null,calculable:false,hoverLink:false,inRange:{color:rampColors},z:4});
});
P.forEach((p,i)=>{
  const box={left:p.L,top:p.T,width:p.R-p.L,height:p.B-p.T};
  const gV=grid.length; grid.push(box);
  const common={gridIndex:gV,type:'value',min:0,max:800,interval:200,z:6,splitLine:{show:false},
    axisLine:{show:true,lineStyle:{color:gc,width:3}},axisTick:{show:true,inside:true,length:9,lineStyle:{color:'#777',width:2}},
    minorTick:{show:true,splitNumber:4,length:5,lineStyle:{color:'#777',width:2}}};
  const xB=xAxis.length;
  xAxis.push({...common,position:'bottom',axisLabel:{show:true,margin:22,fontSize:35,fontFamily:FF,color:lab,...heavy},
    ...(xNameGap[i]?{name:'X(m)',nameLocation:'middle',nameGap:xNameGap[i],nameTextStyle:{fontSize:36,fontFamily:FF,color:lab,...heavy}}:{})});
  xAxis.push({...common,position:'top',axisLabel:{show:false}});
  const yL=yAxis.length;
  const lt={fontSize:35,fontFamily:FF,color:lab,...heavy};
  yAxis.push({...common,position:'left',axisLabel:{show:true,margin:11,...lt,
      formatter:v=>v===0?'{lo|0}':v===800?'{hi|800}':'{n|'+v+'}',
      rich:{lo:{...lt,padding:[0,0,22,0]},hi:{...lt,padding:[24,0,0,0]},n:{...lt,padding:[6,0,0,0]}}},
    name:'Y(m)',nameLocation:'middle',nameRotate:90,nameGap:p.L-p.yc-19,nameTextStyle:{fontSize:36,fontFamily:FF,color:lab,...heavy}});
  yAxis.push({...common,position:'right',axisLabel:{show:false}});
  const shapes=shapeSets[i];
  series.push({type:'custom',coordinateSystem:'cartesian2d',xAxisIndex:xB,yAxisIndex:yL,clip:true,z:3,silent:true,animation:false,
    data:shapes.map((s,k)=>[k]),
    renderItem(params,api){
      const s=shapes[api.value(0)];
      const pts=s.pts.map(q=>api.coord(q));
      const children=[];
      const closed=s.k==='sea'||s.k==='hole';
      const t=closed?'polygon':'polyline';
      const smooth=s.k==='sea'?0.1:s.k==='strip'?0:0.3;
      const scale=s.k==='trace'&&s.pts.length>2?.72:1;
      if(s.k!=='strip'){p.ring.forEach(([c,w])=>{children.push({type:t,shape:{points:pts,smooth},style:{fill:'none',stroke:c,lineWidth:w*scale,lineJoin:'round',lineCap:'round'}});});}
      if(closed||s.k==='strip')children.push({type:'polygon',shape:{points:pts,smooth},style:{fill:'#fff',stroke:'none'}});
      return {type:'group',children};
    }});
  const gC=grid.length; grid.push({left:p.cL,top:p.T,width:p.cR-p.cL,height:p.B-p.T});
  xAxis.push({type:'value',gridIndex:gC,min:0,max:1,show:true,position:'top',offset:-3,z:7,axisLine:{show:true,lineStyle:{color:'#a8a8a8',width:6}},axisTick:{show:false},axisLabel:{show:false},splitLine:{show:false}});
  const cbar={type:'category',gridIndex:gC,data:p.ticks,boundaryGap:false,z:6,splitLine:{show:false},axisLine:{show:true,lineStyle:{color:'#888',width:1}},axisTick:{show:true,inside:true,length:11,interval:k=>k>0&&k<8,lineStyle:{color:'rgba(25,25,50,.65)',width:3}}};
  yAxis.push({...cbar,position:'left',axisLabel:{show:false}});
  const ct={fontSize:21,fontFamily:FF,color:'#5e5e5e'};
  yAxis.push({...cbar,position:'right',axisLabel:{show:true,interval:0,margin:6,...ct,formatter:v=>'{c|'+v+'}',rich:{c:{...ct,padding:[11,0,0,0]}}}});
  const base=p.tx,y=p.ty,g=(text,x,yy,font,sx)=>graphic.push({type:'text',x,y:yy,scaleX:sx||1,z:10,style:{text,font,fill:'#222',verticalAlign:'middle',align:'left'}});
  g(p.id,base,y,'bold 40px "Liberation Serif"');
  const ionX=base+(p.ion==='NH'?60:p.ion==='NO'?54:53);
  g(p.ion,ionX,y+6,'38px "Liberation Sans"',.92);
  const ionW=p.ion==='SO'?54:p.ion==='NH'?52:55;
  g(p.sub,ionX+ionW,y+20,'bold 24px "Liberation Sans"');
  g(p.sup,ionX+ionW+14,y-11,'bold 26px "Liberation Sans"');
});
const chart=echarts.init(document.getElementById('c'),null,{renderer:'canvas',width:2615,height:2015});
chart.setOption({animation:false,backgroundColor:'#fff',grid,xAxis,yAxis,visualMap,series,graphic:{elements:graphic}});
</script></body></html>
